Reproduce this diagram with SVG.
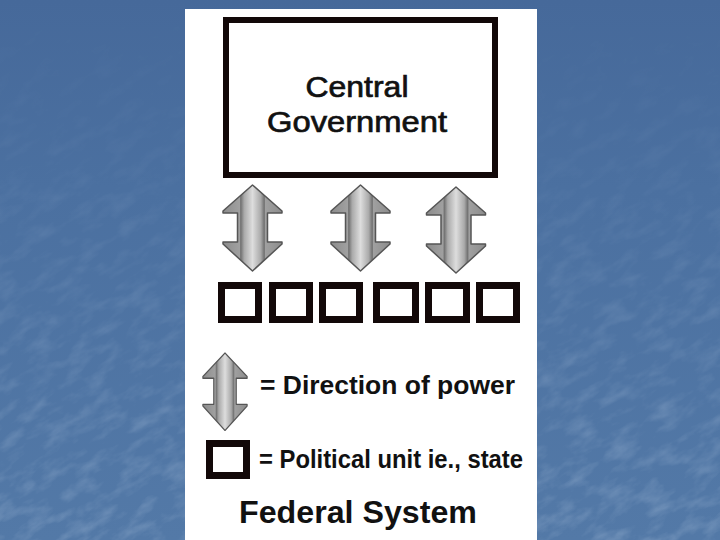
<svg xmlns="http://www.w3.org/2000/svg" width="720" height="540" viewBox="0 0 720 540">
  <defs>
    <linearGradient id="bg" x1="0" y1="0" x2="0" y2="1">
      <stop offset="0" stop-color="#46699a"/>
      <stop offset="0.35" stop-color="#4b70a0"/>
      <stop offset="1" stop-color="#5379a7"/>
    </linearGradient>
    <linearGradient id="fade" x1="0" y1="0" x2="0" y2="1">
      <stop offset="0" stop-color="#fff" stop-opacity="0"/>
      <stop offset="0.3" stop-color="#fff" stop-opacity="0.2"/>
      <stop offset="1" stop-color="#fff" stop-opacity="1"/>
    </linearGradient>
    <mask id="texMask">
      <rect width="720" height="540" fill="url(#fade)"/>
    </mask>
    <filter id="tex" x="0" y="0" width="100%" height="100%">
      <feTurbulence type="fractalNoise" baseFrequency="0.035 0.08" numOctaves="4" seed="7" result="n"/>
      <feColorMatrix in="n" type="matrix" values="0 0 0 0 0.72  0 0 0 0 0.82  0 0 0 0 0.95  0 0 0 1.6 -0.7"/>
    </filter>
    <linearGradient id="arrowFill" x1="0" y1="0" x2="1" y2="0">
      <stop offset="0" stop-color="#8c8c8c"/>
      <stop offset="0.28" stop-color="#a0a0a0"/>
      <stop offset="0.3" stop-color="#707070"/>
      <stop offset="0.36" stop-color="#aaaaaa"/>
      <stop offset="0.5" stop-color="#dddddd"/>
      <stop offset="0.64" stop-color="#aaaaaa"/>
      <stop offset="0.7" stop-color="#707070"/>
      <stop offset="0.72" stop-color="#a0a0a0"/>
      <stop offset="1" stop-color="#8c8c8c"/>
    </linearGradient>
    <path id="arrow" d="M0,0 L29.5,26 L29.5,28 L15,28 L15,57 L29.5,57 L29.5,59 L0,86 L-29.5,59 L-29.5,57 L-15,57 L-15,28 L-29.5,28 L-29.5,26 Z"/>
  </defs>
  <style>
    .arr { fill: url(#arrowFill); stroke: #555; stroke-width: 1.5; stroke-linejoin: round; }
    .unit { fill: #fff; stroke: #120808; stroke-width: 7; }
    .lbl { font-family: "Liberation Sans", Arial, sans-serif; fill: #111; }
    .mid { stroke: #111; stroke-width: 0.7; }
  </style>

  <rect width="720" height="540" fill="url(#bg)"/>
  <g mask="url(#texMask)" opacity="0.3">
    <rect x="-200" y="-200" width="1120" height="940" filter="url(#tex)" transform="rotate(-30 360 270)"/>
  </g>

  <rect x="185" y="9" width="352" height="531" fill="#fff"/>

  <g id="central-government">
    <rect x="226" y="20" width="269" height="155" fill="#fff" stroke="#120808" stroke-width="6"/>
    <text class="lbl mid" x="357" y="97" font-size="29" text-anchor="middle" textLength="103" lengthAdjust="spacingAndGlyphs">Central</text>
    <text class="lbl mid" x="357" y="132" font-size="29" text-anchor="middle" textLength="180" lengthAdjust="spacingAndGlyphs">Government</text>
  </g>

  <g id="connectors">
    <use href="#arrow" class="arr" transform="translate(252.5 185)"/>
    <use href="#arrow" class="arr" transform="translate(360.5 185)"/>
    <use href="#arrow" class="arr" transform="translate(456 187)"/>
  </g>

  <g id="states">
    <rect class="unit" x="221.5" y="285.5" width="37" height="34"/>
    <rect class="unit" x="272.5" y="285.5" width="37" height="34"/>
    <rect class="unit" x="322.5" y="285.5" width="37" height="34"/>
    <rect class="unit" x="376.5" y="285.5" width="39" height="34"/>
    <rect class="unit" x="428.5" y="285.5" width="38" height="34"/>
    <rect class="unit" x="479.5" y="285.5" width="37" height="34"/>
  </g>

  <g id="legend">
    <use href="#arrow" class="arr" transform="translate(225 353) scale(0.75 0.9)"/>
    <text class="lbl" x="260" y="394" font-size="26" font-weight="bold" textLength="255" lengthAdjust="spacingAndGlyphs">= Direction of power</text>
    <rect class="unit" x="209.5" y="443.5" width="37" height="32"/>
    <text class="lbl" x="259" y="468" font-size="26" font-weight="bold" textLength="264" lengthAdjust="spacingAndGlyphs">= Political unit ie., state</text>
  </g>

  <g id="title">
    <text class="lbl" x="358" y="523" font-size="32" font-weight="bold" text-anchor="middle" textLength="238" lengthAdjust="spacingAndGlyphs">Federal System</text>
  </g>
</svg>
